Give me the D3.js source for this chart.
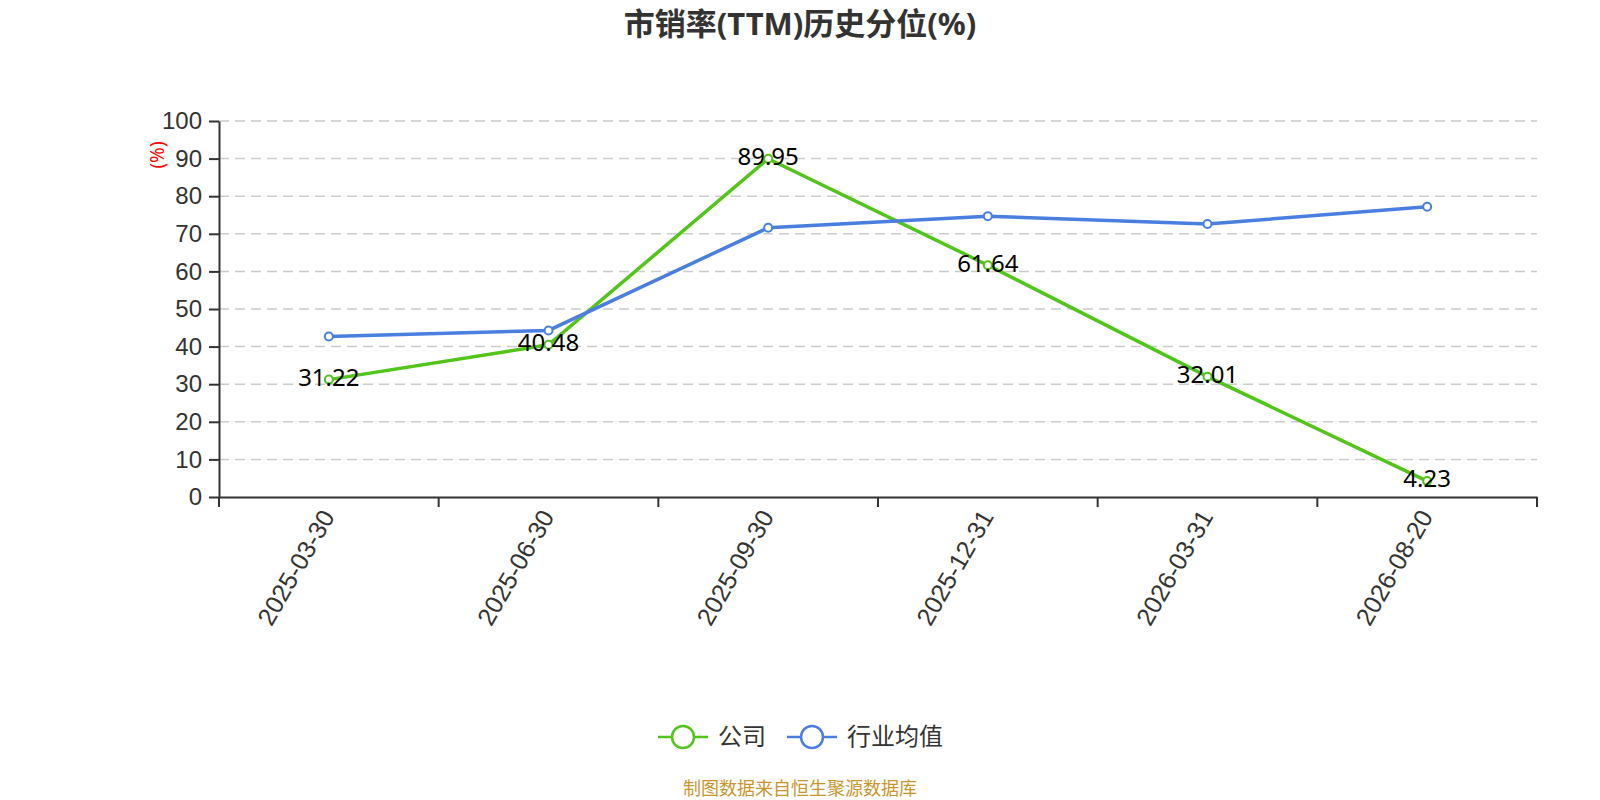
<!DOCTYPE html>
<html>
<head>
<meta charset="utf-8">
<script src="https://cdn.jsdelivr.net/npm/d3@7"></script>
<style>
  body { margin: 0; background: #fff; }
  svg { display: block; font-family: "Noto Sans", "Noto Sans CJK SC", sans-serif; }
  .y-axis text, .x-axis text { fill: #333; font-size: 24px; }
  .x-axis text { font-size: 25px; }
  .y-axis path, .y-axis line, .x-axis path, .x-axis line { stroke: #333; stroke-width: 2; }
  .grid line { stroke: #ccc; stroke-width: 1.5; stroke-dasharray: 10,6; }
</style>
</head>
<body>
<svg id="chart"></svg>
<script>
var dates = ["2025-03-30", "2025-06-30", "2025-09-30", "2025-12-31", "2026-03-31", "2026-08-20"];
var companyValues = [31.22, 40.48, 89.95, 61.64, 32.01, 4.23];
var industryValues = [42.7, 44.3, 71.6, 74.7, 72.6, 77.2];
var yTicks = [0, 10, 20, 30, 40, 50, 60, 70, 80, 90, 100];
var seriesNames = ["公司", "行业均值"];
var seriesColors = ["#52c41a", "#4a7fe0"];

var W = 1600, H = 800;
var margin = {top: 121, right: 63, bottom: 303, left: 219};
var width = W - margin.left - margin.right;
var height = H - margin.top - margin.bottom;

var svg = d3.select("#chart")
    .attr("width", W)
    .attr("height", H);

// title
svg.append("text")
    .attr("x", W / 2)
    .attr("y", 24)
    .attr("dy", "0.35em")
    .attr("text-anchor", "middle")
    .style("font-size", "31px")
    .style("font-weight", "bold")
    .style("fill", "#333")
    .text("市销率(TTM)历史分位(%)");

var g = svg.append("g")
    .attr("transform", "translate(" + margin.left + "," + margin.top + ")");

var x = d3.scaleBand()
    .domain(dates)
    .range([0, width]);

var y = d3.scaleLinear()
    .domain([0, 100])
    .range([height, 0]);

function cx(d) { return x(d) + x.bandwidth() / 2; }

// dashed grid
g.append("g")
    .attr("class", "grid")
  .selectAll("line")
  .data(yTicks.filter(function(t) { return t > 0; }))
  .enter().append("line")
    .attr("x1", 0)
    .attr("x2", width)
    .attr("y1", function(d) { return y(d); })
    .attr("y2", function(d) { return y(d); });

// y axis
g.append("g")
    .attr("class", "y-axis")
    .call(d3.axisLeft(y)
        .tickValues(yTicks)
        .tickSize(10)
        .tickSizeOuter(0)
        .tickPadding(7));

// x axis, labels in the middle of each band, ticks on the boundaries
var xAxis = g.append("g")
    .attr("class", "x-axis")
    .attr("transform", "translate(0," + height + ")")
    .call(d3.axisBottom(x).tickSize(0).tickSizeOuter(0));

xAxis.selectAll(".tick text")
    .attr("text-anchor", "end")
    .attr("dy", "0.35em")
    .attr("y", 0)
    .attr("transform", "translate(-1,15) rotate(-60)");

xAxis.selectAll(".bound")
    .data(dates.map(function(d) { return x(d); }).concat([width]))
  .enter().append("line")
    .attr("class", "bound")
    .attr("x1", function(d) { return d; })
    .attr("x2", function(d) { return d; })
    .attr("y1", 0)
    .attr("y2", 10);

// y axis name
svg.append("text")
    .attr("transform", "translate(157,155) rotate(-90)")
    .attr("text-anchor", "middle")
    .attr("dy", "0.35em")
    .style("font-size", "19px")
    .style("fill", "red")
    .text("(%)");

var line = d3.line()
    .x(function(d, i) { return cx(dates[i]); })
    .y(function(d) { return y(d); });

var allSeries = [companyValues, industryValues];

allSeries.forEach(function(values, k) {
    g.append("path")
        .datum(values)
        .attr("fill", "none")
        .attr("stroke", seriesColors[k])
        .attr("stroke-width", 3.5)
        .attr("d", line);

    g.selectAll(".pt" + k)
        .data(values)
      .enter().append("circle")
        .attr("class", "pt" + k)
        .attr("cx", function(d, i) { return cx(dates[i]); })
        .attr("cy", function(d) { return y(d); })
        .attr("r", 4)
        .attr("fill", "#fff")
        .attr("stroke", seriesColors[k])
        .attr("stroke-width", 2);
});

// value labels for the company line
g.selectAll(".val")
    .data(companyValues)
  .enter().append("text")
    .attr("class", "val")
    .attr("x", function(d, i) { return cx(dates[i]); })
    .attr("y", function(d) { return y(d) - 2; })
    .attr("dy", "0.35em")
    .attr("text-anchor", "middle")
    .style("font-size", "24px")
    .style("fill", "#000")
    .text(function(d) { return d.toFixed(2); });

// legend
var legendX = [658, 787];
var legend = svg.selectAll(".legend")
    .data(seriesNames)
  .enter().append("g")
    .attr("class", "legend")
    .attr("transform", function(d, i) { return "translate(" + legendX[i] + ",737)"; });

legend.append("line")
    .attr("x1", 0)
    .attr("x2", 50)
    .attr("stroke", function(d, i) { return seriesColors[i]; })
    .attr("stroke-width", 2.5);

legend.append("circle")
    .attr("cx", 25)
    .attr("r", 11)
    .attr("fill", "#fff")
    .attr("stroke", function(d, i) { return seriesColors[i]; })
    .attr("stroke-width", 2.5);

legend.append("text")
    .attr("x", 60)
    .attr("dy", "0.35em")
    .style("font-size", "24px")
    .style("fill", "#333")
    .text(function(d) { return d; });

// source note
svg.append("text")
    .attr("x", W / 2)
    .attr("y", 789)
    .attr("dy", "0.35em")
    .attr("text-anchor", "middle")
    .style("font-size", "18px")
    .style("fill", "#c8962e")
    .text("制图数据来自恒生聚源数据库");
</script>
</body>
</html>
